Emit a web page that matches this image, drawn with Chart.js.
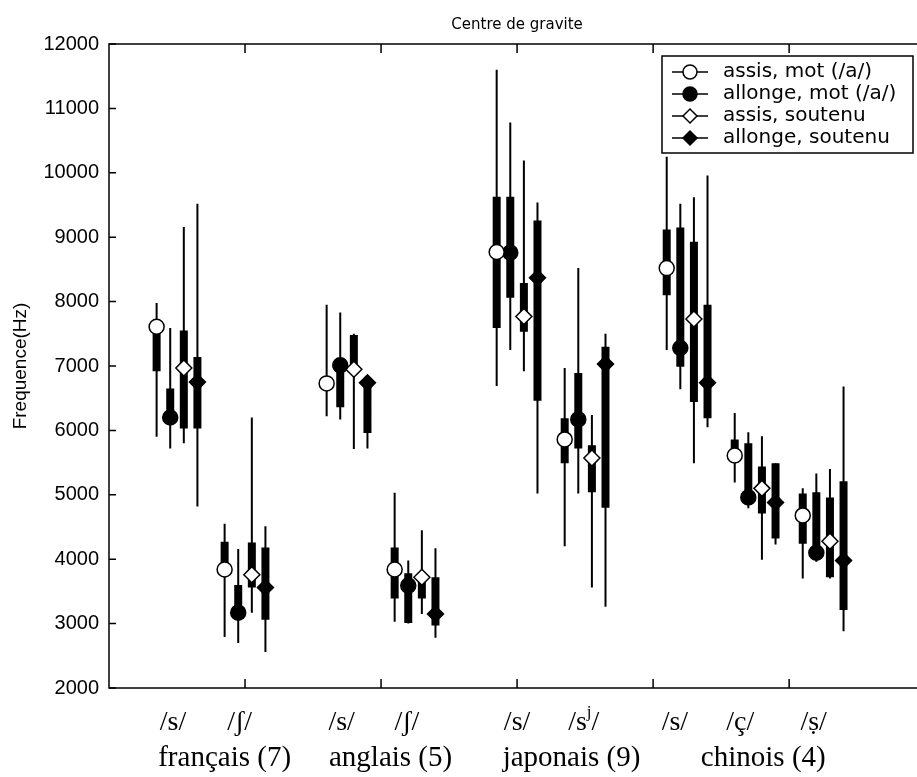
<!DOCTYPE html>
<html>
<head>
<meta charset="utf-8">
<script src="https://cdn.jsdelivr.net/npm/chart.js@4.4.0/dist/chart.umd.min.js"></script>
<style>
  html, body { margin: 0; padding: 0; background: #fff; }
  #wrap { width: 917px; height: 777px; }
</style>
</head>
<body>
<div id="wrap"><canvas id="chart" width="917" height="777"></canvas></div>
<script>
// ===== Data =====
const seriesNames = ['assis, mot (/a/)', 'allonge, mot (/a/)', 'assis, soutenu', 'allonge, soutenu'];
const phonemes = ['/s/', '/ʃ/', '/s/', '/ʃ/', '/s/', '/sʲ/', '/s/', '/ç/', '/ṣ/'];
const phonemeX = [0.5, 1.0, 1.75, 2.25, 3.0, 3.5, 4.25, 4.75, 5.25];
const phonemeLabelX = [0.47, 0.96, 1.71, 2.19, 3.0, 3.49, 4.16, 4.64, 5.18];
const languages = ['français (7)', 'anglais (5)', 'japonais (9)', 'chinois (4)'];
const languageX = [0.85, 2.07, 3.4, 4.81];
const yTicks = [2000, 3000, 4000, 5000, 6000, 7000, 8000, 9000, 10000, 11000, 12000];
const xTicks = [1, 2, 3, 4, 5];

// one row per series, one column per phoneme
const medians = [
    [7610, 3840, 6730, 3840, 8770, 5860, 8520, 5610, 4680],
    [6200, 3170, 7010, 3590, 8760, 6170, 7280, 4960, 4100],
    [6970, 3760, 6950, 3720, 7770, 5570, 7730, 5100, 4280],
    [6750, 3560, 6740, 3150, 8370, 7030, 6740, 4880, 3980]
];
const q1 = [
    [6920, 3760, 6650, 3390, 7590, 5490, 8100, 5500, 4240],
    [6100, 3120, 6360, 3010, 8060, 5720, 6990, 4860, 3990],
    [6030, 3560, 6900, 3390, 7530, 5040, 6440, 4710, 3720],
    [6030, 3060, 5960, 2970, 6460, 4800, 6190, 4320, 3210]
];
const q3 = [
    [7620, 4270, 6800, 4180, 9630, 6190, 9120, 5860, 5020],
    [6650, 3600, 7120, 3780, 9630, 6890, 9150, 5800, 5040],
    [7550, 4260, 7480, 3750, 8290, 5770, 8930, 5440, 4960],
    [7140, 4180, 6800, 3720, 9260, 7300, 7950, 5490, 5210]
];
const mins = [
    [5900, 2790, 6220, 3030, 6690, 4200, 7250, 5190, 3700],
    [5720, 2700, 6170, 3000, 7250, 5020, 6640, 4790, 3960],
    [5800, 3170, 5710, 3150, 6920, 3560, 5490, 3990, 3700],
    [4820, 2560, 5720, 2780, 5020, 3260, 6050, 4230, 2880]
];
const maxs = [
    [7980, 4550, 7950, 5030, 11600, 6970, 10250, 6270, 5100],
    [7590, 4160, 7830, 3980, 10780, 8520, 9520, 5970, 5330],
    [9160, 6200, 7500, 4450, 10190, 6240, 9620, 5910, 5400],
    [9520, 4510, 6800, 4170, 9540, 7500, 9960, 5490, 6680]
];

// ===== Styles =====
const offsets = [-0.15, -0.05, 0.05, 0.15];
const markerShape = ['circle', 'circle', 'rectRot', 'rectRot'];
const markerFill = ['#fff', '#000', '#fff', '#000'];
const sans = "'DejaVu Sans', sans-serif";
const tickFont = "'Liberation Sans', Arial, sans-serif";
const serif = "'Liberation Serif', 'DejaVu Serif', serif";

// vertical segments min..max (or q1..q3), broken by nulls
function segments(lo, hi, off) {
    const pts = [];
    phonemeX.forEach((x, j) => {
        pts.push({ x: x + off, y: lo[j] }, { x: x + off, y: hi[j] }, { x: x + off, y: null });
    });
    return pts;
}

const datasets = [];
seriesNames.forEach((name, i) => {
    datasets.push({
        label: name + ' range',
        data: segments(mins[i], maxs[i], offsets[i]),
        borderColor: '#000', borderWidth: 2, borderCapStyle: 'butt',
        pointRadius: 0, tension: 0, order: 3
    });
    datasets.push({
        label: name + ' box',
        data: segments(q1[i], q3[i], offsets[i]),
        borderColor: '#000', borderWidth: 8, borderCapStyle: 'butt',
        pointRadius: 0, tension: 0, order: 2
    });
    datasets.push({
        label: name,
        data: phonemeX.map((x, j) => ({ x: x + offsets[i], y: medians[i][j] })),
        showLine: false,
        pointStyle: markerShape[i],
        pointRadius: markerShape[i] === 'circle' ? 7.5 : 8,
        pointBackgroundColor: markerFill[i],
        pointBorderColor: '#000', pointBorderWidth: 1.5,
        order: 1
    });
});

// ===== Frame, labels, title and legend =====
function drawMarker(ctx, shape, fill, x, y, r) {
    ctx.beginPath();
    if (shape === 'circle') {
        ctx.arc(x, y, r, 0, Math.PI * 2);
    } else {
        ctx.moveTo(x - r, y); ctx.lineTo(x, y - r); ctx.lineTo(x + r, y); ctx.lineTo(x, y + r);
        ctx.closePath();
    }
    ctx.fillStyle = fill; ctx.fill();
    ctx.lineWidth = 1.5; ctx.strokeStyle = '#000'; ctx.stroke();
}

function drawPhoneme(ctx, text, cx, baseline) {
    const k = text.indexOf('ʲ');
    if (k < 0) { ctx.textAlign = 'center'; ctx.fillText(text, cx, baseline); return; }
    const a = text.slice(0, k), b = text.slice(k + 1);
    ctx.font = '28px ' + serif;
    const wa = ctx.measureText(a).width, wb = ctx.measureText(b).width;
    ctx.font = '17px ' + serif;
    const wj = ctx.measureText('j').width;
    let x = cx - (wa + wj + wb) / 2;
    ctx.textAlign = 'left';
    ctx.font = '28px ' + serif; ctx.fillText(a, x, baseline); x += wa;
    ctx.font = '17px ' + serif; ctx.fillText('j', x, baseline - 13); x += wj;
    ctx.font = '28px ' + serif; ctx.fillText(b, x, baseline);
}

const framePlugin = {
    id: 'frame',
    afterDraw(chart) {
        const { ctx, chartArea: a, scales: { x, y } } = chart;
        const right = x.getPixelForValue(6);
        ctx.save();
        ctx.strokeStyle = '#000';
        ctx.lineWidth = 1.5;
        ctx.strokeRect(a.left, a.top, right - a.left, a.bottom - a.top);
        ctx.beginPath();
        xTicks.forEach(v => {
            const px = x.getPixelForValue(v);
            ctx.moveTo(px, a.bottom); ctx.lineTo(px, a.bottom - 9);
            ctx.moveTo(px, a.top); ctx.lineTo(px, a.top + 9);
        });
        yTicks.forEach(v => {
            const py = y.getPixelForValue(v);
            ctx.moveTo(a.left, py); ctx.lineTo(a.left + 7, py);
            ctx.moveTo(right, py); ctx.lineTo(right - 7, py);
        });
        ctx.stroke();

        // category labels under the axis
        ctx.fillStyle = '#000';
        ctx.textBaseline = 'alphabetic';
        phonemes.forEach((p, j) => {
            ctx.font = '28px ' + serif;
            drawPhoneme(ctx, p, x.getPixelForValue(phonemeLabelX[j]), a.bottom + 42);
        });
        ctx.font = '29px ' + serif;
        ctx.textAlign = 'center';
        languages.forEach((l, j) => ctx.fillText(l, x.getPixelForValue(languageX[j]), a.bottom + 78));

        // title
        ctx.font = '15px ' + sans;
        ctx.textBaseline = 'middle';
        ctx.fillText('Centre de gravite', (a.left + right) / 2, a.top - 19);

        // legend
        const bx = chart.width - 255, by = a.top + 12, bw = 251, bh = 97;
        ctx.fillStyle = '#fff';
        ctx.fillRect(bx, by, bw, bh);
        ctx.lineWidth = 1.5;
        ctx.strokeRect(bx, by, bw, bh);
        seriesNames.forEach((name, i) => {
            const ly = by + 16 + i * 22;
            ctx.beginPath();
            ctx.moveTo(bx + 10, ly); ctx.lineTo(bx + 46, ly);
            ctx.lineWidth = 1.5; ctx.strokeStyle = '#000'; ctx.stroke();
            drawMarker(ctx, markerShape[i], markerFill[i], bx + 28, ly, 7);
            ctx.fillStyle = '#000';
            ctx.font = '20px ' + sans;
            ctx.textAlign = 'left';
            ctx.textBaseline = 'middle';
            ctx.fillText(name, bx + 61, ly);
        });
        ctx.restore();
    }
};

new Chart(document.getElementById('chart'), {
    type: 'line',
    data: { datasets },
    plugins: [framePlugin],
    options: {
        responsive: false,
        animation: false,
        layout: { autoPadding: false, padding: { top: 44, right: 0, bottom: 0, left: 0 } },
        plugins: { legend: { display: false }, tooltip: { enabled: false }, title: { display: false } },
        scales: {
            x: {
                type: 'linear', min: 0, max: 5.94,
                grid: { display: false, drawTicks: false },
                border: { display: false },
                ticks: { display: false },
                afterFit: s => { s.height = 89; }
            },
            y: {
                min: 2000, max: 12000,
                grid: { display: false, drawTicks: false },
                border: { display: false },
                afterBuildTicks: s => { s.ticks = yTicks.map(v => ({ value: v })); },
                ticks: {
                    color: '#000', padding: 10, font: { family: tickFont, size: 20 },
                    callback: v => String(v)
                },
                title: {
                    display: true, text: 'Frequence(Hz)', color: '#000',
                    font: { family: tickFont, size: 19 }, padding: { top: 9, bottom: 0 }
                },
                afterFit: s => { s.width = 109; }
            }
        }
    }
});
</script>
</body>
</html>
